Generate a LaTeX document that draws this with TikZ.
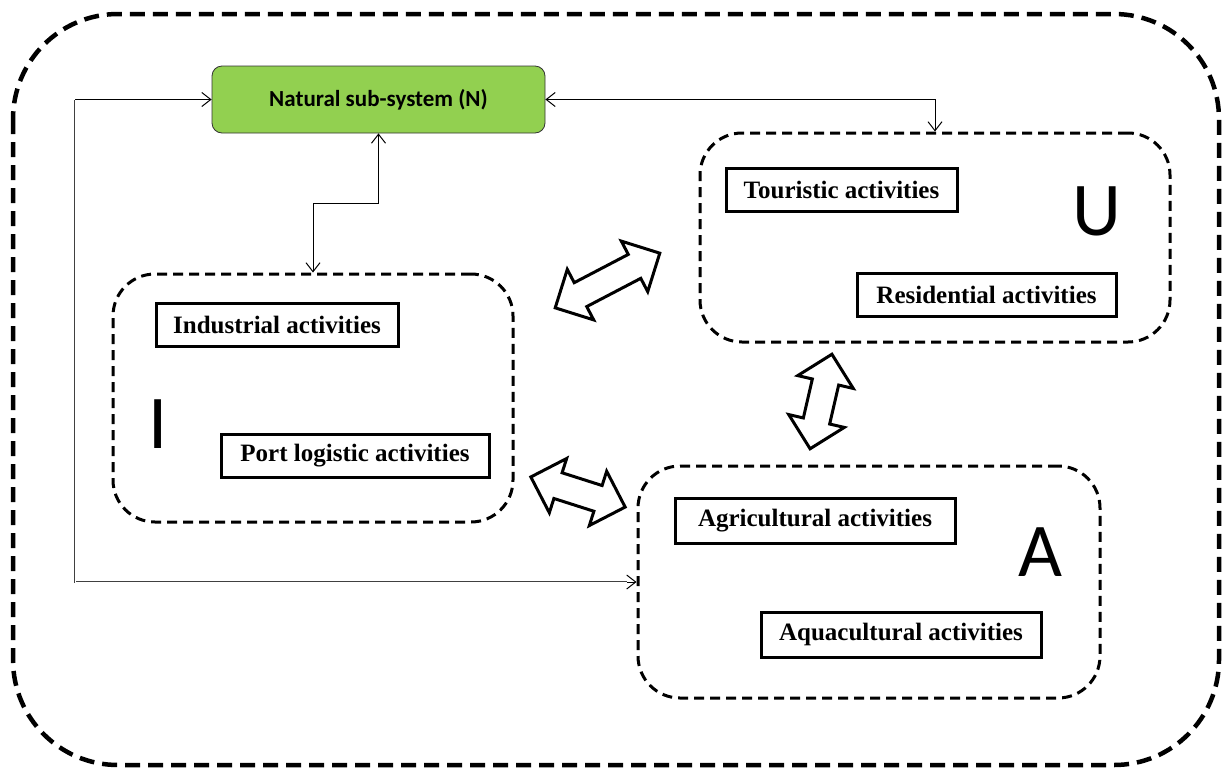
\documentclass[tikz,border=0pt]{standalone}
\usepackage{fontspec}
\setmainfont{Liberation Serif}
\newfontfamily\calibfont{Carlito}
\usetikzlibrary{shapes,arrows.meta,positioning,calc}
\usepackage{xcolor}
\definecolor{natgreen}{RGB}{146,208,80}

\begin{document}
\begin{tikzpicture}[
    x=1pt, y=-1pt,
    natural/.style={rectangle, rounded corners=10pt, draw=black!80, line width=0.8pt, fill=natgreen,
                    minimum width=333pt, minimum height=67pt, font=\calibfont\bfseries\fontsize{23}{27}\selectfont},
    activity/.style={rectangle, draw, line width=3pt, minimum height=43pt,
                     font=\bfseries\fontsize{25}{30}\selectfont},
    group/.style={rectangle, rounded corners=42pt, draw, line width=3pt, dash pattern=on 10pt off 6pt},
    letter/.style={inner sep=0pt, font=\calibfont\fontsize{76}{80}\selectfont},
    link/.style={{Straight Barb[length=9pt,width=14pt]}-{Straight Barb[length=9pt,width=14pt]}, line width=1pt},
    dbllink/.style={draw=black!75, line width=0.9pt, double=white, double distance=0.7pt},
    blockarrow/.style={double arrow, draw, line width=3pt, fill=white, inner xsep=0pt, inner ysep=12pt,
                       minimum width=54pt, double arrow head extend=15pt}
]
\useasboundingbox (0,0) rectangle (1223,769);

% Outer frame
\draw[line width=4.5pt, dash pattern=on 15pt off 8pt, rounded corners=105pt] (13,14) rectangle (1219,765);

% Natural sub-system
\node[natural] (nat) at (378.5, 99.5) {Natural sub-system (N)};

% Sub-system groups
\node[group, minimum width=400pt, minimum height=248pt] (grpI) at (313, 398) {};
\node[group, minimum width=470pt, minimum height=209pt] (grpU) at (935, 237.5) {};
\node[group, minimum width=462pt, minimum height=232pt] (grpA) at (869, 582) {};

% Activities
\node[activity, minimum width=242pt] (ind) at (277, 324.5) {Industrial activities};
\node[activity, minimum width=268pt] (port) at (355, 455.5) {Port logistic activities};
\node[activity, minimum width=231pt] (tour) at (841.5, 189.5) {Touristic activities};
\node[activity, minimum width=259pt] (res) at (986.5, 294.5) {Residential activities};
\node[activity, minimum width=280pt, minimum height=45pt] (agri) at (815, 520.5) {Agricultural activities};
\node[activity, minimum width=280pt, minimum height=45pt] (aqua) at (901, 634.5) {Aquacultural activities};

% Group letters
\node[letter] (lI) at (158, 424) {I};
\node[letter] (lU) at (1097, 211) {U};
\node[letter] (lA) at (1040, 552) {A};

% Links with the natural sub-system
\coordinate (lft) at (75, 0);
\draw[link] (nat.east) -| (grpU.north);
\draw[link] (nat.south) -- ++(0, 70) -| (grpI.north);
\draw[link] (nat.west) -- (nat.west -| lft) -- (grpA.west -| lft) -- (grpA.west);
\draw[dbllink, shorten >=10pt] (nat.west -| lft) -- (grpA.west -| lft) -- (grpA.west);

% Exchanges between groups
\node[blockarrow, minimum height=118pt, rotate=27.6] (xIU) at (607.5, 280.5) {};
\node[blockarrow, minimum height=99pt, rotate=-17.7] (xIA) at (578, 492) {};
\node[blockarrow, minimum height=97pt, rotate=77] (xUA) at (821, 401.5) {};

\end{tikzpicture}
\end{document}
